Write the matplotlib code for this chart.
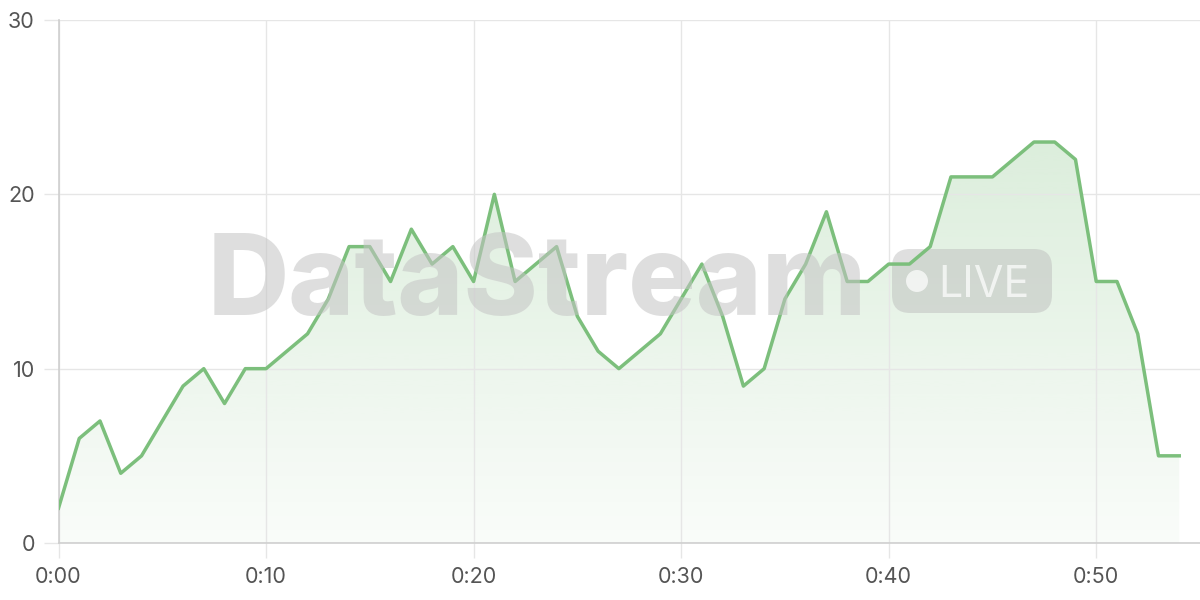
import matplotlib.pyplot as plt
import numpy as np
from matplotlib.patches import FancyBboxPatch, Circle

plt.rcParams['font.family'] = ['Inter', 'DejaVu Sans']

# viewers per minute
minutes = list(range(55))
viewers = [2, 6, 7, 4, 5, 7, 9, 10, 8, 10,
           10, 11, 12, 14, 17, 17, 15, 18, 16, 17,
           15, 20, 15, 16, 17, 13, 11, 10, 11, 12,
           14, 16, 13, 9, 10, 14, 16, 19, 15, 15,
           16, 16, 17, 21, 21, 21, 22, 23, 23, 22,
           15, 15, 12, 5, 5]
x_ticks = [0, 10, 20, 30, 40, 50]
x_labels = ['0:00', '0:10', '0:20', '0:30', '0:40', '0:50']
y_ticks = [0, 10, 20, 30]

line_color = '#7cbf7c'
grid_color = '#e6e6e6'

fig = plt.figure(figsize=(12, 6), dpi=100)
ax = fig.add_axes([58.5 / 1200, 57 / 600, 1 - 58.5 / 1200, 523 / 600])

# gradient fill under the line
grad = np.linspace(0.04, 0.28, 256).reshape(-1, 1)
rgba = np.zeros((256, 1, 4))
rgba[..., 0] = 124 / 255
rgba[..., 1] = 191 / 255
rgba[..., 2] = 124 / 255
rgba[..., 3] = grad
img = ax.imshow(rgba, extent=[0, 54, 0, 24], origin='lower', aspect='auto', zorder=1)
poly = ax.fill_between(minutes, viewers, 0, color='none')
img.set_clip_path(poly.get_paths()[0], transform=ax.transData)
ax.set_xlim(0, 55)
ax.set_ylim(0, 30)

ax.plot(minutes, viewers, color=line_color, lw=2.5, zorder=4)

# watermark
fig.text(208 / 1200, (600 - 315) / 600, 'DataStream', fontsize=81,
         fontweight='heavy', color='#c4c4c4', alpha=0.55, ha='left',
         va='baseline', zorder=3)
badge = FancyBboxPatch((892, 600 - 313), 160, 64, boxstyle='round,pad=0,rounding_size=18',
                       transform=None, facecolor='#b8b8b8', edgecolor='none',
                       alpha=0.45, zorder=3)
ax.add_artist(badge)
ax.add_artist(Circle((917, 600 - 281), 11, transform=None, facecolor='white',
                     alpha=0.7, zorder=3))
fig.text(938 / 1200, (600 - 297) / 600, 'LIVE', fontsize=31, color='white',
         alpha=0.7, ha='left', va='baseline', zorder=3)

for s in ['top', 'right']:
    ax.spines[s].set_visible(False)
for s in ['left', 'bottom']:
    ax.spines[s].set_color('#cfcfcf')
    ax.spines[s].set_linewidth(1.2)

ax.set_xticks(x_ticks)
ax.set_xticklabels(x_labels)
ax.set_yticks(y_ticks)
ax.grid(True, color=grid_color, lw=1, zorder=0)
ax.tick_params(axis='both', length=11, color=grid_color, labelcolor='#555555',
               labelsize=15.5, width=1)
ax.tick_params(axis='x', pad=6)
ax.tick_params(axis='y', pad=6)

fig.savefig('out.png', dpi=100)
